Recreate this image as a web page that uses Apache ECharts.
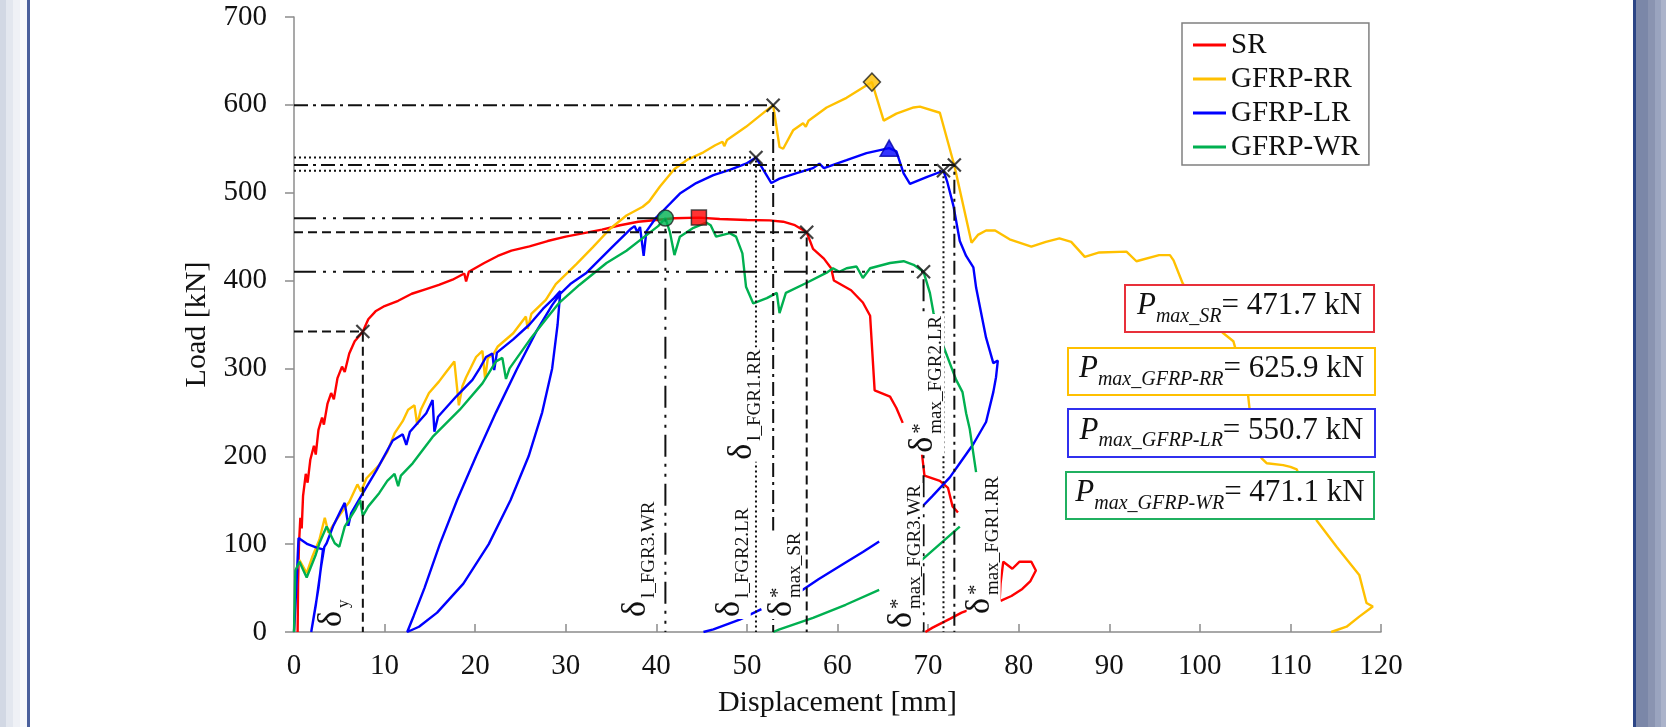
<!DOCTYPE html>
<html><head><meta charset="utf-8">
<script src="https://cdn.jsdelivr.net/npm/echarts@6/dist/echarts.min.js"></script>
<style>html,body{margin:0;padding:0;background:#fff}#c{width:1666px;height:727px}</style>
</head><body><div id="c"></div>
<script>
// ---------------- data ----------------
const seriesNames = ['SR', 'GFRP-RR', 'GFRP-LR', 'GFRP-WR'];

const srMain = [[0.4,0],[0.45,55],[0.55,100],[0.7,130],[0.85,118],[1.0,155],[1.3,180],[1.5,170],[1.8,196],[2.2,212],[2.4,202],[2.7,230],[3.1,244],[3.3,236],[3.7,260],[4.1,272],[4.4,265],[4.8,289],[5.3,302],[5.6,296],[6.1,317],[6.7,331],[7.2,337],[7.6,342],[8.2,356],[9.0,365],[10.0,371],[11.5,377],[13.0,385],[14.5,390],[16.0,395],[17.5,401],[18.8,408],[19.0,399],[19.3,410],[21.0,420],[22.5,428],[24.0,434],[26.0,439],[28.0,445],[30.0,450],[32.0,454],[34.0,458],[36.0,463],[38.0,467],[40.0,469],[42.0,471],[44.7,471.7],[47.0,470],[50.0,469],[52.5,468.5],[54.0,467],[55.3,463],[56.6,455],[57.3,436],[58.5,425],[59.3,414],[59.6,400],[61.5,389],[62.8,375],[63.6,360],[64.1,275],[65.8,268],[66.5,255],[67.2,238]];
const srMid = [[69.3,205],[69.6,178],[71.3,172],[72.2,164],[72.7,143],[73.3,136]];
const srTail = [[69.7,0],[70.5,5],[72.4,15],[73.7,22],[75.5,29],[77.9,36],[78.0,55],[78.3,80],[79.3,72],[80.1,80],[81.4,80],[81.9,70],[81.3,58],[80.4,49],[79.2,41],[78.0,35.5]];

const rrCurve = [[0,0],[0.3,70],[0.6,82],[1.4,67],[2.0,85],[2.8,105],[3.4,130],[3.8,113],[4.7,128],[5.5,140],[6.1,148],[7.0,168],[7.4,160],[8.0,175],[9.4,190],[10.3,205],[11.1,226],[12.0,240],[12.6,253],[13.3,258],[13.6,236],[14.0,253],[14.9,272],[16.0,285],[16.8,296],[17.7,308],[18.2,258],[18.6,280],[19.0,290],[20.1,313],[20.8,320],[21.1,288],[21.4,312],[22.0,316],[22.5,325],[24.2,340],[25.6,359],[25.8,345],[26.2,362],[27.8,378],[28.9,396],[29.3,400],[31.2,419],[33.0,438],[34.9,459],[36.7,474],[38.5,484],[39.2,490],[40.4,507],[42.0,527],[43.5,538],[45.2,546],[46.5,554],[47.3,558],[47.5,553],[47.8,560],[49.9,575],[52.2,594],[52.9,599.5],[53.6,552],[54.0,550],[55.1,571],[56.2,579],[56.5,575],[56.8,582],[58.8,597],[61.0,608],[63.8,625.9],[65.1,582],[66.5,590],[68.4,597],[69.1,598],[71.3,591],[72.9,531],[74.8,443],[75.5,452],[76.4,457],[77.4,457],[79.0,447],[81.4,438.6],[83.0,444],[84.5,448],[85.8,444],[87.3,427],[88.9,432],[91.9,433],[93.0,422],[95.5,429],[96.7,429],[97.1,423],[98.1,397],[100.0,365],[102.6,340],[103.7,331],[105.3,272],[105.5,253],[106.8,198],[107.4,192],[109.2,190],[110.0,188],[110.7,185],[112.9,127],[115.1,97],[117.6,65],[118.4,33],[119.1,29],[117.6,17.5],[116.2,6],[114.5,0]];

const lrCurve = [[0,0],[0.3,60],[0.5,107],[1.5,100],[2.5,96],[3.2,94],[2.7,50],[1.9,0],[2.4,30],[3.0,75],[3.35,97],[3.6,101],[4.3,120],[5.2,139],[5.6,147],[6.0,121],[6.3,135],[7.6,158],[9.1,184],[10.9,218],[12.0,225],[12.4,213],[12.8,228],[14.6,249],[15.3,264],[15.5,228],[15.9,245],[17.9,268],[19.7,287],[20.5,300],[21.2,313],[21.9,317],[22.1,298],[22.4,318],[24.2,333],[26.0,350],[27.5,368],[28.7,380],[29.4,388],[29.1,350],[28.5,300],[27.4,250],[25.9,200],[23.9,150],[21.5,100],[18.7,55],[15.8,22],[13.8,6],[12.5,0],[13.2,18],[14.4,50],[16.1,100],[18.0,150],[20.1,200],[22.3,250],[24.6,299],[26.8,343],[28.5,372],[29.4,385],[30.5,396],[32.3,409],[35.2,439],[37.2,459],[37.6,462],[37.9,455],[38.2,461],[38.6,428],[38.9,456],[40.0,472],[40.8,480],[42.6,499],[44.4,511],[46.3,520],[48.1,526],[49.9,533],[51.0,540],[52.7,511],[53.6,516],[55.4,522],[57.3,528],[58.0,533],[58.5,528],[61.0,537],[63.2,545],[65.7,550.7],[66.5,547],[67.3,522],[68.0,510],[69.9,518],[71.7,525],[72.1,513],[72.8,485],[73.5,445],[74.2,428],[75.0,415],[75.3,392],[76.4,335],[77.2,306],[77.7,309],[77.5,290],[77.2,273],[76.4,239],[75.0,214],[73.5,192],[72.4,176],[70.5,155],[69.1,140]];
const lrTailA = [[64.6,103],[62.8,91],[60.9,79],[57.9,60],[55.6,44]];
const lrTailB = [[51.6,26],[49.2,14],[46.3,3],[45.2,0]];

const wrCurve = [[0,0],[0.15,70],[0.6,80],[1.4,62],[2.4,88],[2.8,101],[3.6,120],[4.5,101],[5.0,97],[5.6,120],[6.8,140],[7.3,150],[7.6,132],[8.2,143],[9.4,158],[10.3,172],[11.1,180],[11.5,166],[11.8,178],[13.1,192],[15.3,222],[18.3,253],[20.8,283],[22.3,308],[23.0,312],[23.4,288],[23.8,300],[26.2,335],[27.9,357],[29.3,375],[31.5,395],[34.5,420],[36.7,434],[38.7,450],[40.2,462],[41.0,471],[41.5,455],[42.0,429],[42.6,450],[44.1,460],[45.5,466],[46.0,463],[46.6,450],[48.1,454],[48.8,450],[49.5,431],[49.9,393],[50.7,374],[52.2,380],[53.3,386],[53.6,363],[54.3,386],[56.5,397],[58.8,409],[59.5,414],[60.2,410],[61.0,414],[62.1,416],[62.8,403],[63.6,414],[65.8,420],[67.3,422],[68.4,418],[69.5,410],[70.2,386],[70.6,363],[71.7,325],[73.1,287],[73.8,273],[74.2,249],[74.6,231],[75.3,182]];
const wrTailA = [[73.5,120],[71.3,100],[69.1,80]];
const wrTailB = [[64.6,48],[60.9,31],[57.3,16],[53.6,3],[52.9,0]];

// characteristic points (displacement, load)
const guidePoints = [[7.6,342],[41.0,471],[51.0,540],[52.9,599.5],[56.6,455],[69.5,410],[71.7,525],[72.9,531.5]];
const crossPoints = [[7.6,342],[51.0,540],[52.9,599.5],[56.6,455],[69.5,410],[71.7,525],[72.9,531.5]];
const peakSR = [44.7, 471.7];
const peakRR = [63.8, 625.9];
const peakLR = [65.7, 550.7];
const peakWR = [41.0, 471.1];

const deltaSubs = ['y','l_FGR3.WR','l_FGR2.LR','l_FGR1.RR','max_SR','max_FGR3.WR','max_FGR2.LR','max_FGR1.RR'];
const deltaStar = [false,false,false,false,true,true,true,true];
const boxSubs = ['max_SR','max_GFRP-RR','max_GFRP-LR','max_GFRP-WR'];

// ---------------- chart ----------------
const F = '"Liberation Serif","Times New Roman",serif';
const COL = {SR:'#ff0000', RR:'#ffc000', LR:'#0000ff', WR:'#00b050'};
const chart = echarts.init(document.getElementById('c'), null, {renderer:'canvas'});

function curve(name, data, color) {
  return {type:'line', name, data, symbol:'none', showSymbol:false, silent:true,
    lineStyle:{color, width:2.4}, itemStyle:{color}, z:2, animation:false};
}
const dashStyles = {dashed:[9,5], dashdot:[14,5,3,5], dashdotdot:[22,7,3,7,3,7], dotted:[2,3]};
const guideKinds = ['dashed','dashdotdot','dotted','dashdot','dashed','dashdotdot','dotted','dashdot'];
const guideSeries = guidePoints.map((p, i) => ({
  type:'line', data:[[0,p[1]],[p[0],p[1]],[p[0],0]], symbol:'none', silent:true, z:3,
  lineStyle:{color:'#111', width:2, type:dashStyles[guideKinds[i]]}, animation:false
}));
function peak(data, symbol, size, color, border) {
  return {type:'scatter', data:[data], symbol, symbolSize:size, z:6, silent:true,
    itemStyle:{color, borderColor:border, borderWidth:1.5}, animation:false};
}

chart.setOption({
  animation:false,
  backgroundColor:'#fff',
  grid:{left:294, top:17, width:1087, height:615},
  legend:{data:seriesNames, orient:'vertical', left:1182, top:23, icon:'rect',
    itemWidth:33, itemHeight:3, itemGap:4, padding:[7,9,3,11], selectedMode:false,
    borderColor:'#808080', borderWidth:1.5, backgroundColor:'#fff', z:20,
    textStyle:{fontFamily:F, fontSize:29, lineHeight:30, color:'#111'}},
  xAxis:{type:'value', min:0, max:120, interval:10, name:'Displacement [mm]', nameLocation:'middle', nameGap:56,
    nameTextStyle:{fontFamily:F, fontSize:30, color:'#111'},
    axisLine:{lineStyle:{color:'#8c8c8c', width:1.5}},
    axisTick:{inside:true, length:8, lineStyle:{color:'#8c8c8c', width:1.5}},
    axisLabel:{fontFamily:F, fontSize:29, color:'#111', margin:20},
    splitLine:{show:false}},
  yAxis:{type:'value', min:0, max:700, interval:100, name:'Load [kN]', nameLocation:'middle', nameGap:73, nameRotate:90,
    nameTextStyle:{fontFamily:F, fontSize:30, color:'#111'},
    axisLine:{show:true, lineStyle:{color:'#8c8c8c', width:1.5}},
    axisTick:{show:true, inside:false, length:9, lineStyle:{color:'#8c8c8c', width:1.5}},
    axisLabel:{fontFamily:F, fontSize:29, color:'#111', margin:27},
    splitLine:{show:false}},
  series:[
    curve('SR', srMain, COL.SR), curve('SR', srMid, COL.SR), curve('SR', srTail, COL.SR),
    curve('GFRP-RR', rrCurve, COL.RR),
    curve('GFRP-LR', lrCurve, COL.LR), curve('GFRP-LR', lrTailA, COL.LR), curve('GFRP-LR', lrTailB, COL.LR),
    curve('GFRP-WR', wrCurve, COL.WR), curve('GFRP-WR', wrTailA, COL.WR), curve('GFRP-WR', wrTailB, COL.WR),
    ...guideSeries,
    {type:'scatter', data:crossPoints, symbol:'path://M0,0L10,10M10,0L0,10', symbolSize:13, z:6, silent:true,
      itemStyle:{color:'rgba(0,0,0,0)', borderColor:'#111', borderWidth:2.2}},
    peak(peakSR, 'rect', 15, COL.SR, '#222'),
    peak(peakWR, 'circle', 16, COL.WR, '#222'),
    peak(peakRR, 'diamond', [17,18], COL.RR, '#222'),
    peak(peakLR, 'triangle', [18,16], COL.LR, '#0000aa')
  ]
});

// ---------------- annotations ----------------
const mctx = document.createElement('canvas').getContext('2d');
function textW(t, size) { mctx.font = size + 'px ' + F; return mctx.measureText(t).width; }
const ZT = 100;

const labelAnchors = [[6.37,5.7],[40.02,17],[50.31,17],[51.72,196],[56.05,17],[69.3,4.5],[71.67,204],[77.9,20.5]];
function deltaLabel(i) {
  const [px, py] = chart.convertToPixel({gridIndex:0}, labelAnchors[i]);
  const sub = deltaSubs[i];
  const subSize = i === 0 ? 17 : 19;
  const sx = 19;
  const len = sx + textW(sub, subSize);
  const kids = [
    {type:'rect', z:ZT, shape:{x:-2, y:-33, width:len + 4, height:34}, style:{fill:'#fff'}},
    {type:'text', z:ZT + 1, x:0, y:-20, style:{text:'δ', fontFamily:F, fontSize:34, fill:'#111', align:'left', verticalAlign:'middle'}},
    {type:'text', z:ZT + 1, x:sx, y:i === 0 ? -8 : -7, style:{text:sub, fontFamily:F, fontSize:subSize, fill:'#111', align:'left', verticalAlign:'middle'}}
  ];
  if (deltaStar[i]) kids.push({type:'text', z:ZT + 1, x:sx, y:-23, style:{text:'*', fontFamily:F, fontSize:21, fill:'#111', align:'left', verticalAlign:'middle'}});
  return {type:'group', x:px, y:py, rotation:Math.PI/2, z:ZT, children:kids};
}

const boxRects = [[1125,285,249,47],[1068,348,307,47],[1068,409,307,48],[1066,472,308,47]];
const boxColors = ['#e8303a','#ffc000','#3030ee','#20b060'];
const peaks = [peakSR, peakRR, peakLR, peakWR];
function pBox(i) {
  const [x, y, w, h] = boxRects[i];
  return {type:'group', z:ZT, children:[
    {type:'rect', z:ZT + 2, shape:{x, y, width:w, height:h}, style:{fill:'#fff', stroke:boxColors[i], lineWidth:2}},
    {type:'text', z:ZT + 3, x:x + w/2, y:y + h/2, style:{
      text:'{p|P}{s|' + boxSubs[i] + '}{v|= ' + peaks[i][1].toFixed(1) + ' kN}',
      align:'center', verticalAlign:'middle', fill:'#111',
      rich:{
        p:{fontFamily:F, fontStyle:'italic', fontSize:31, lineHeight:36, verticalAlign:'top', fill:'#111'},
        s:{fontFamily:F, fontStyle:'italic', fontSize:20, lineHeight:22, padding:[17,0,0,0], verticalAlign:'bottom', fill:'#111'},
        v:{fontFamily:F, fontSize:31, lineHeight:36, verticalAlign:'top', fill:'#111'}
      }}}
  ]};
}

const frame = [
  {type:'rect', shape:{x:0, y:0, width:6, height:727}, style:{fill:'#d2d8e4'}},
  {type:'rect', shape:{x:6, y:0, width:7, height:727}, style:{fill:'#e3e7ef'}},
  {type:'rect', shape:{x:13, y:0, width:7, height:727}, style:{fill:'#eff1f6'}},
  {type:'rect', shape:{x:20, y:0, width:7, height:727}, style:{fill:'#f7f8fb'}},
  {type:'rect', shape:{x:27, y:0, width:3, height:727}, style:{fill:'#4b609c'}},
  {type:'rect', shape:{x:1633, y:0, width:3, height:727}, style:{fill:'#2c4585'}},
  {type:'rect', shape:{x:1636, y:0, width:12, height:727}, style:{fill:'#7b87a8'}},
  {type:'rect', shape:{x:1648, y:0, width:7, height:727}, style:{fill:'#8a94b1'}},
  {type:'rect', shape:{x:1655, y:0, width:6, height:727}, style:{fill:'#9aa4bf'}},
  {type:'rect', shape:{x:1661, y:0, width:5, height:727}, style:{fill:'#abb3ca'}}
].map(e => Object.assign(e, {z:ZT, silent:true}));

chart.setOption({graphic:[
  ...frame,
  ...deltaSubs.map((_, i) => deltaLabel(i)),
  ...boxRects.map((_, i) => pBox(i))
]});
</script>
</body></html>
